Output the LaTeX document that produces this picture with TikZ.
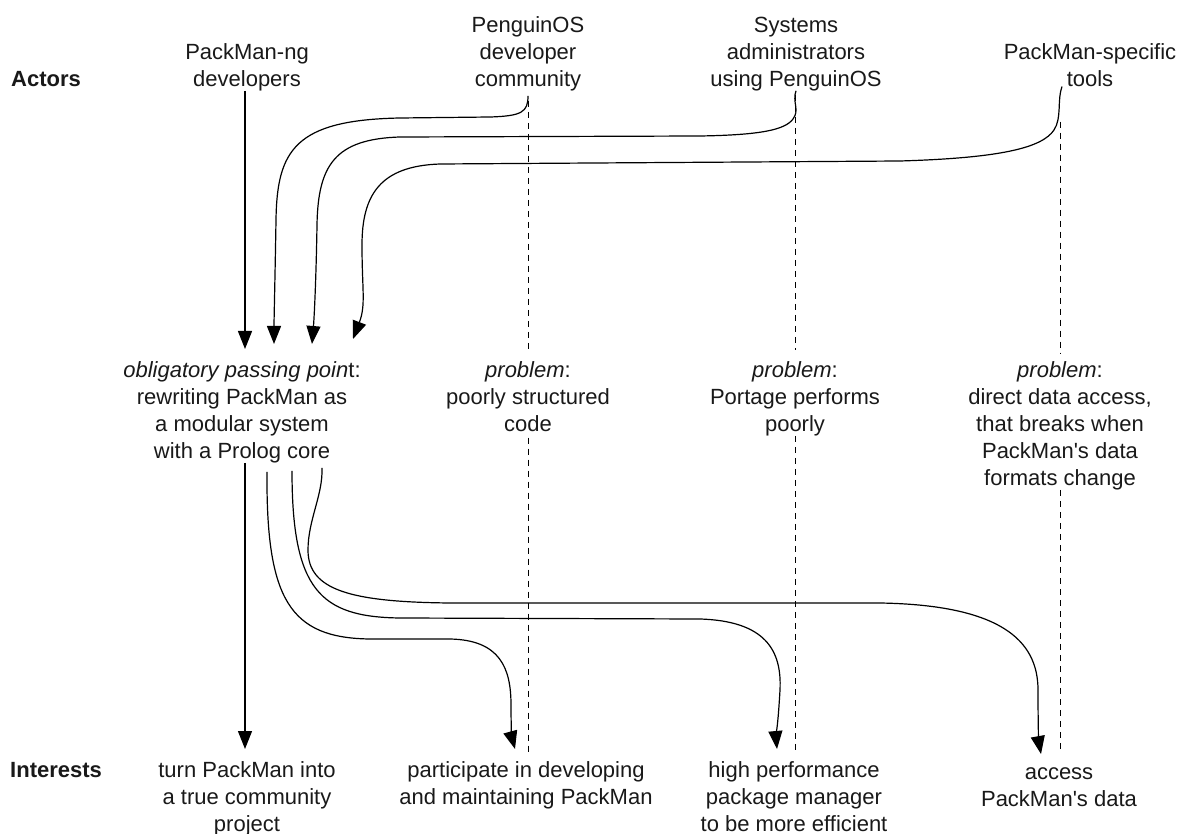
\documentclass[tikz,border=0pt]{standalone}
\usepackage{fontspec}
\setmainfont{Liberation Sans}
\usetikzlibrary{arrows.meta,calc}
\begin{document}
\begin{tikzpicture}[x=1pt,y=-1pt,
  txt/.style={font=\fontsize{22}{27}\selectfont, align=center, inner sep=0pt, anchor=north, text=black!90},
  lbl/.style={font=\fontsize{22}{27}\selectfont\bfseries, inner sep=0pt, anchor=north west, text=black!90},
  arr/.style={line width=1.2pt, -{Triangle[length=18pt,width=14pt]}},
  dline/.style={line width=1pt, dash pattern=on 6pt off 5pt}]
\useasboundingbox (0,0) rectangle (1192,834);

% row labels
\node[lbl] (actors) at (11,67) {\strut Actors};
\node[lbl] (interests) at (10,758) {\strut Interests};

% actors
\node[txt] (pd) at (247,40) {\strut PackMan-ng\\developers};
\node[txt] (pc) at (528,13) {\strut PenguinOS\\developer\\community};
\node[txt] (sa) at (796,13) {\strut Systems\\administrators\\using PenguinOS};
\node[txt] (pt) at (1090,40) {\strut PackMan-specific\\tools};

% middle
\node[txt] (opp) at (242,358) {\strut\textit{obligatory passing poin}t:\\rewriting PackMan as\\a modular system\\with a Prolog core};
\node[txt] (p1) at (528,358) {\strut\textit{problem}:\\poorly structured\\code};
\node[txt] (p2) at (795,358) {\strut\textit{problem}:\\Portage performs\\poorly};
\node[txt] (p3) at (1060,358) {\strut\textit{problem}:\\direct data access,\\that breaks when\\PackMan\textquotesingle s data\\formats change};

% interests
\node[txt] (i1) at (247,758) {\strut turn PackMan into\\a true community\\project};
\node[txt] (i2) at (526,758) {\strut participate in developing\\and maintaining PackMan};
\node[txt] (i3) at (794,758) {\strut high performance\\package manager\\to be more efficient};
\node[txt] (i4) at (1059,760) {\strut access\\PackMan\textquotesingle s data};

% arrow tips
\coordinate (t1) at (245,349);
\coordinate (t2) at (274,344);
\coordinate (t3) at (312,344);
\coordinate (t4) at (353,339);
\coordinate (b1) at (245,749);
\coordinate (b2) at (515,749);
\coordinate (b3) at (777,749);
\coordinate (b4) at (1041,754);

% dashed problem lines
\draw[dline] ($(pc.south)+(0,10)$) -- ($(p1.north)+(0,-6)$);
\draw[dline] ($(p1.south)+(0,6)$) -- ($(p1.south |- i2.north)+(0,-3)$);
\draw[dline] ($(sa.south)+(-1,4)$) -- ($(p2.north)+(0,-8)$);
\draw[dline] (p2.south) -- ($(p2.south |- i3.north)+(0,-5)$);
\draw[dline] ($(pt.south -| p3.north)+(0,35)$) -- ($(p3.north)+(0,-5)$);
\draw[dline] (p3.south) -- ($(p3.south |- i4.north)+(0,-10)$);

% actors -> obligatory passing point
\draw[arr] (pd.south -| t1) -- (t1);
\draw[arr] ($(pc.south)+(0,5)$) .. controls (528,112) and (522,116) .. (490,117)
  -- (400,118) .. controls (295,120) and (277,150) .. (276,220)
  .. controls (275,280) and (274,320) .. (t2);
\draw[arr] (sa.south) .. controls (792,102) and (800,110) .. (793,119)
  .. controls (785,130) and (760,135) .. (700,136)
  -- (400,137) .. controls (335,139) and (318,165) .. (317,225)
  .. controls (316,285) and (314,320) .. (t3);
\draw[arr] ($(pt.south)+(-28,0)$) .. controls (1057,100) and (1062,118) .. (1054,130)
  .. controls (1042,148) and (1000,158) .. (900,161)
  -- (440,164) .. controls (380,166) and (362,195) .. (362,245)
  .. controls (362,290) and (366,305) .. (t4);

% obligatory passing point -> interests
\draw[arr] (opp.south -| b1) -- (b1);
\draw[arr] ($(opp.south)+(25,9)$) .. controls (266,600) and (290,638) .. (370,639)
  -- (450,639) .. controls (500,640) and (511,668) .. (511,705)
  .. controls (511,728) and (512,738) .. (b2);
\draw[arr] ($(opp.south)+(50,8)$) .. controls (292,590) and (320,617) .. (400,618)
  -- (700,619) .. controls (765,621) and (782,650) .. (780,690)
  .. controls (778,725) and (776,738) .. (b3);
\draw[arr] ($(opp.south)+(80,5)$) .. controls (323,495) and (308,520) .. (308,550)
  .. controls (308,590) and (350,602) .. (450,603)
  -- (880,603) .. controls (1000,605) and (1038,640) .. (1038,690)
  .. controls (1038,730) and (1039,743) .. (b4);
\end{tikzpicture}
\end{document}
